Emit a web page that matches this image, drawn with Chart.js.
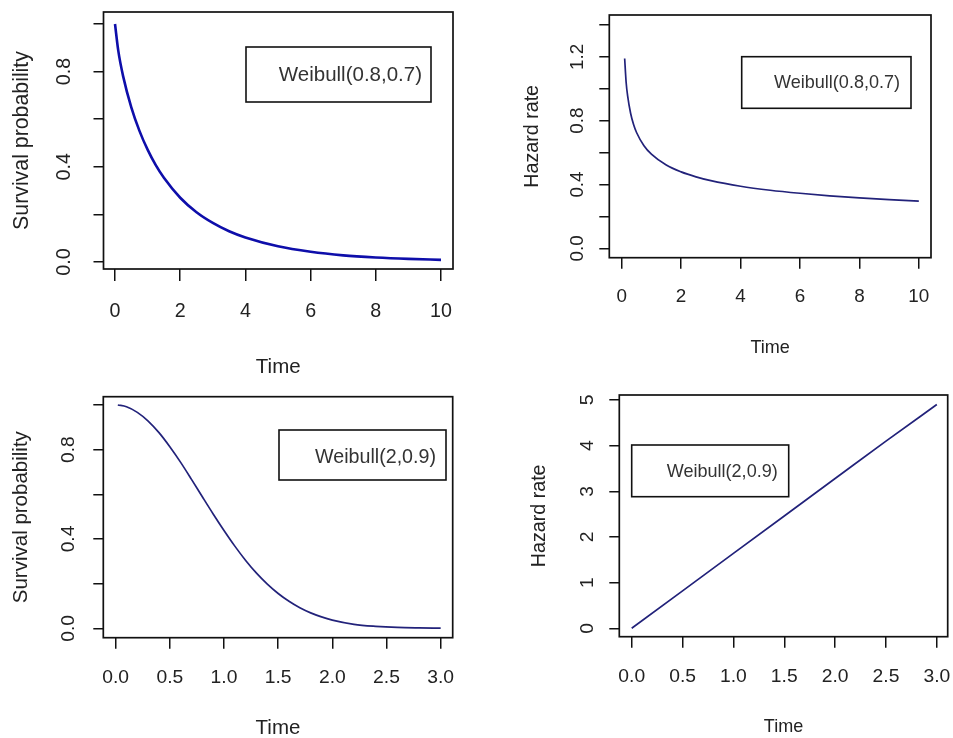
<!DOCTYPE html>
<html>
<head>
<meta charset="utf-8">
<script src="https://cdn.jsdelivr.net/npm/chart.js@4.4.1/dist/chart.umd.min.js"></script>
<style>
html, body { margin: 0; padding: 0; background: #ffffff; }
#wrap { position: relative; width: 953px; height: 738px; overflow: hidden; background: #ffffff; }
canvas { position: absolute; }
</style>
</head>
<body>
<div id="wrap">
  <canvas id="c1" width="476" height="380" style="left:0px;top:0px;width:476px;height:380px"></canvas>
  <canvas id="c2" width="477" height="380" style="left:476px;top:0px;width:477px;height:380px"></canvas>
  <canvas id="c3" width="476" height="358" style="left:0px;top:380px;width:476px;height:358px"></canvas>
  <canvas id="c4" width="477" height="358" style="left:476px;top:380px;width:477px;height:358px"></canvas>
</div>
<script>
// ---------------- data ----------------
const time1 = [0, 0.1, 0.25, 0.5, 0.75, 1, 1.25, 1.5, 2, 2.5, 3, 3.5, 4, 5, 6, 7, 8, 9, 10];
const survival1 = [1, 0.888, 0.780, 0.650, 0.551, 0.472, 0.407, 0.354, 0.270, 0.209, 0.164, 0.129, 0.103, 0.066, 0.043, 0.028, 0.019, 0.013, 0.009];

const time2 = [0.1, 0.15, 0.2, 0.3, 0.4, 0.5, 0.75, 1, 1.5, 2, 2.5, 3, 4, 5, 6, 7, 8, 9, 10];
const hazard2 = [1.19, 1.04, 0.956, 0.847, 0.776, 0.726, 0.643, 0.590, 0.522, 0.479, 0.448, 0.424, 0.389, 0.364, 0.345, 0.329, 0.316, 0.305, 0.296];

const time3 = [0.02, 0.1, 0.2, 0.3, 0.4, 0.5, 0.6, 0.7, 0.8, 0.9, 1.0, 1.1, 1.2, 1.3, 1.4, 1.5, 1.6, 1.7, 1.8, 1.9, 2.0, 2.2, 2.4, 2.6, 2.8, 3.0];
const survival3 = [1.0, 0.992, 0.967, 0.928, 0.876, 0.813, 0.743, 0.667, 0.589, 0.512, 0.438, 0.368, 0.304, 0.247, 0.198, 0.156, 0.121, 0.092, 0.069, 0.051, 0.037, 0.018, 0.009, 0.004, 0.002, 0.001];

const time4 = [0, 0.5, 1, 1.5, 2, 2.5, 3];
const hazard4 = [0, 0.82, 1.64, 2.46, 3.28, 4.10, 4.90];

const xTicks10 = [0, 2, 4, 6, 8, 10];
const xLabels10 = ['0', '2', '4', '6', '8', '10'];
const xTicks3 = [0, 0.5, 1, 1.5, 2, 2.5, 3];
const xLabels3 = ['0.0', '0.5', '1.0', '1.5', '2.0', '2.5', '3.0'];
const yTicksSurv = [0, 0.2, 0.4, 0.6, 0.8, 1.0];
const yLabelsSurv = ['0.0', '', '0.4', '', '0.8', ''];
const yTicksHaz2 = [0, 0.2, 0.4, 0.6, 0.8, 1.0, 1.2, 1.4];
const yLabelsHaz2 = ['0.0', '', '0.4', '', '0.8', '', '1.2', ''];
const yTicksHaz4 = [0, 1, 2, 3, 4, 5];
const yLabelsHaz4 = ['0', '1', '2', '3', '4', '5'];

const legendText1 = 'Weibull(0.8,0.7)';
const legendText2 = 'Weibull(2,0.9)';
const xTitle = 'Time';
const yTitleSurv = 'Survival probability';
const yTitleHaz = 'Hazard rate';

// ---------------- fonts ----------------
function fontAvailable(name) {
  const c = document.createElement('canvas').getContext('2d');
  const s = 'Weibull(0.8,0.7) Survival probability 0123';
  c.font = '40px monospace';
  const a = c.measureText(s).width;
  c.font = '40px "' + name + '", monospace';
  const b = c.measureText(s).width;
  return Math.abs(a - b) > 0.5;
}
const NARROW = fontAvailable('Liberation Sans Narrow');
const FAMILY = NARROW ? '"Liberation Sans Narrow", "Liberation Sans", Arial, sans-serif'
                      : '"Liberation Sans", Arial, sans-serif';
const K = NARROW ? 1 : 0.82;
const measureCtx = document.createElement('canvas').getContext('2d');
function textWidth(s, size) {
  measureCtx.font = size + 'px ' + FAMILY;
  return measureCtx.measureText(s).width;
}
const TEXT = '#222222';
const INK = '#111111';

// ---------------- plugins ----------------
const framePlugin = {
  id: 'frameBox',
  afterDraw(chart) {
    const a = chart.chartArea, ctx = chart.ctx;
    ctx.save();
    ctx.strokeStyle = INK;
    ctx.lineWidth = 1.7;
    ctx.strokeRect(a.left, a.top, a.right - a.left, a.bottom - a.top);
    ctx.restore();
  }
};
const legendBoxPlugin = {
  id: 'legendBox',
  afterDraw(chart, args, o) {
    if (!o || !o.text) return;
    const ctx = chart.ctx;
    ctx.save();
    ctx.strokeStyle = INK;
    ctx.lineWidth = 1.6;
    ctx.strokeRect(o.x0, o.y0, o.x1 - o.x0, o.y1 - o.y0);
    ctx.font = (o.size * K) + 'px ' + FAMILY;
    ctx.fillStyle = '#333333';
    ctx.textAlign = 'right';
    ctx.textBaseline = 'middle';
    ctx.fillText(o.text, o.right, o.cy);
    ctx.restore();
  }
};

// ---------------- panel builder ----------------
function makePanel(id, p) {
  const canvas = document.getElementById(id);
  const W = canvas.width, H = canvas.height;
  const tickSize = p.tickSize * K;
  const xTitleSize = p.xTitleSize * K;
  const yTitleSize = p.yTitleSize * K;
  const widest = Math.max.apply(null, p.yLabels.map(s => textWidth(s, tickSize)));
  const zeroPad = s => { s.paddingLeft = 0; s.paddingRight = 0; s.paddingTop = 0; s.paddingBottom = 0; };

  return new Chart(canvas.getContext('2d'), {
    type: 'line',
    data: {
      datasets: [{
        data: p.xs.map((x, i) => ({ x: x, y: p.ys[i] })),
        borderColor: p.color,
        borderWidth: p.lineWidth,
        pointRadius: 0,
        fill: false,
        cubicInterpolationMode: 'monotone'
      }]
    },
    options: {
      responsive: false,
      animation: false,
      devicePixelRatio: 1,
      events: [],
      layout: { padding: { left: 0, top: p.area.T, right: W - p.area.R, bottom: 0 } },
      plugins: {
        legend: { display: false },
        tooltip: { enabled: false },
        legendBox: p.legend
      },
      scales: {
        x: {
          type: 'linear',
          position: 'bottom',
          min: p.xMin, max: p.xMax,
          bounds: 'data',
          afterBuildTicks: s => { s.ticks = p.xTicks.map(v => ({ value: v })); },
          afterFit: s => { s.height = H - p.area.B; zeroPad(s); },
          grid: { display: true, drawOnChartArea: false, drawTicks: true, tickLength: p.xTickLen, color: INK, lineWidth: 1.5 },
          border: { display: false },
          ticks: {
            autoSkip: false, minRotation: 0, maxRotation: 0,
            padding: p.xLabelY - p.area.B - p.xTickLen - tickSize / 2,
            font: { family: FAMILY, size: tickSize, lineHeight: 1 },
            color: TEXT,
            callback: (v, i) => p.xLabels[i]
          },
          title: {
            display: true, text: xTitle, color: TEXT,
            font: { family: FAMILY, size: xTitleSize, lineHeight: 1 },
            padding: { top: 0, bottom: H - p.xTitleY - xTitleSize / 2 }
          }
        },
        y: {
          type: 'linear',
          position: 'left',
          min: p.yMin, max: p.yMax,
          bounds: 'data',
          afterBuildTicks: s => { s.ticks = p.yTicks.map(v => ({ value: v })); },
          afterFit: s => { s.width = p.area.L; zeroPad(s); },
          grid: { display: true, drawOnChartArea: false, drawTicks: true, tickLength: p.yTickLen, color: INK, lineWidth: 1.5 },
          border: { display: false },
          ticks: {
            autoSkip: false, minRotation: 90, maxRotation: 90, crossAlign: 'center',
            padding: p.area.L - p.yTickLen - widest / 2 - p.yLabelX,
            font: { family: FAMILY, size: tickSize, lineHeight: 1 },
            color: TEXT,
            callback: (v, i) => p.yLabels[i]
          },
          title: {
            display: true, text: p.yTitle, color: TEXT,
            font: { family: FAMILY, size: yTitleSize, lineHeight: 1 },
            padding: { top: p.yTitleX - yTitleSize / 2, bottom: 0 }
          }
        }
      }
    },
    plugins: [framePlugin, legendBoxPlugin]
  });
}

// top-left: survival, Weibull(0.8,0.7)
makePanel('c1', {
  xs: time1, ys: survival1, color: '#0e0eaa', lineWidth: 2.6,
  area: { L: 103.5, T: 12, R: 453, B: 269 },
  xMin: -0.353, xMax: 10.368, yMin: -0.0294, yMax: 1.0504,
  xTicks: xTicks10, xLabels: xLabels10, yTicks: yTicksSurv, yLabels: yLabelsSurv,
  xTickLen: 12, yTickLen: 10,
  tickSize: 24, xTitleSize: 25, yTitleSize: 26,
  xLabelY: 312, xTitleY: 367, yLabelX: 65, yTitleX: 22,
  yTitle: yTitleSurv,
  legend: { text: legendText1, x0: 246, y0: 47, x1: 431, y1: 102, right: 422, cy: 75, size: 25 }
});

// top-right: hazard, Weibull(0.8,0.7)
makePanel('c2', {
  xs: time2, ys: hazard2, color: '#22227a', lineWidth: 1.7,
  area: { L: 133.3, T: 15, R: 455, B: 257.7 },
  xMin: -0.417, xMax: 10.41, yMin: -0.059, yMax: 1.463,
  xTicks: xTicks10, xLabels: xLabels10, yTicks: yTicksHaz2, yLabels: yLabelsHaz2,
  xTickLen: 11, yTickLen: 10,
  tickSize: 23, xTitleSize: 22, yTitleSize: 24,
  xLabelY: 296.7, xTitleY: 348.3, yLabelX: 101.7, yTitleX: 56.7,
  yTitle: yTitleHaz,
  legend: { text: legendText1, x0: 265.7, y0: 56.7, x1: 435, y1: 108.3, right: 424, cy: 83.3, size: 22 }
});

// bottom-left: survival, Weibull(2,0.9)
makePanel('c3', {
  xs: time3, ys: survival3, color: '#22227a', lineWidth: 1.7,
  area: { L: 103.3, T: 16.7, R: 452.7, B: 257.7 },
  xMin: -0.114, xMax: 3.111, yMin: -0.042, yMax: 1.037,
  xTicks: xTicks3, xLabels: xLabels3, yTicks: yTicksSurv, yLabels: yLabelsSurv,
  xTickLen: 11, yTickLen: 10,
  tickSize: 23.5, xTitleSize: 25, yTitleSize: 25,
  xLabelY: 297.7, xTitleY: 348.3, yLabelX: 69, yTitleX: 21.7,
  yTitle: yTitleSurv,
  legend: { text: legendText2, x0: 279, y0: 50, x1: 446, y1: 100, right: 436, cy: 77.7, size: 24 }
});

// bottom-right: hazard, Weibull(2,0.9)
makePanel('c4', {
  xs: time4, ys: hazard4, color: '#22227a', lineWidth: 1.7,
  area: { L: 143.3, T: 15, R: 471.7, B: 256.7 },
  xMin: -0.122, xMax: 3.107, yMin: -0.184, yMax: 5.109,
  xTicks: xTicks3, xLabels: xLabels3, yTicks: yTicksHaz4, yLabels: yLabelsHaz4,
  xTickLen: 11, yTickLen: 10,
  tickSize: 23.5, xTitleSize: 22, yTitleSize: 24,
  xLabelY: 296.7, xTitleY: 346.7, yLabelX: 111.7, yTitleX: 63.3,
  yTitle: yTitleHaz,
  legend: { text: legendText2, x0: 155.7, y0: 65, x1: 312.7, y1: 116.7, right: 301.7, cy: 91.7, size: 22 }
});
</script>
</body>
</html>
